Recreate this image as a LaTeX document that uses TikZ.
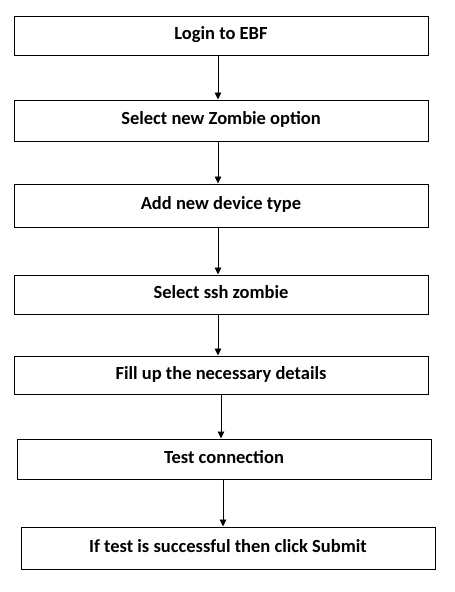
\documentclass[tikz,border=0pt]{standalone}
\usepackage{fontspec}
\setmainfont{Carlito}
\usetikzlibrary{arrows.meta}

\tikzstyle{stepbox}=[draw,line width=1pt,minimum width=414pt,inner sep=0pt,
    text height=12pt,text depth=4pt,font=\fontsize{18.5}{21}\selectfont\bfseries]
\tikzstyle{flow}=[draw,line width=0.9pt,-{Triangle[length=7pt,width=6.5pt]}]

\begin{document}
\begin{tikzpicture}[x=1pt,y=-1pt]
    \useasboundingbox (0,0) rectangle (455,592);
    \foreach \pos/\h/\name/\txt in {{(221,35.5)/39/login/Login to EBF},
                               {(221,120.5)/41/zombie/Select new Zombie option},
                               {(221,205.5)/43/device/Add new device type},
                               {(221,294.5)/39/ssh/Select ssh zombie},
                               {(221,375)/38/details/Fill up the necessary details},
                               {(224,459)/40/test/Test connection},
                               {(228,548)/42/submit/If test is successful then click Submit}}
        \node[stepbox,minimum height=\h pt] (\name) at \pos {\txt};
    \foreach \source/\dest/\dx in {login/zombie/-3, zombie/device/-3, device/ssh/-3,
                                   ssh/details/-3, details/test/0, test/submit/-1}
        \path[flow] ([xshift=\dx pt]\source.south) -- ([xshift=\dx pt]\source.south |- \dest.north);
\end{tikzpicture}
\end{document}
